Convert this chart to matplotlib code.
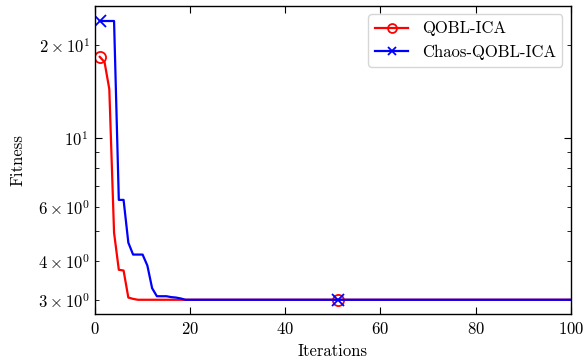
import matplotlib
matplotlib.use("Agg")
import matplotlib.pyplot as plt
import numpy as np

plt.rcParams['font.family'] = 'serif'
plt.rcParams['font.serif'] = ['cmr10', 'DejaVu Serif']
plt.rcParams['mathtext.fontset'] = 'cm'
plt.rcParams['axes.formatter.use_mathtext'] = True
plt.rcParams['font.size'] = 12

iterations = list(range(1, 101))

qobl_head = [18.3, 17.6, 14.4, 4.94, 3.75, 3.73, 3.05, 3.02]
chaos_head = [23.9, 23.9, 23.9, 23.9, 6.31, 6.31, 4.59, 4.20, 4.20, 4.20,
              3.87, 3.27, 3.08, 3.08, 3.08, 3.06, 3.05, 3.03]
final_value = 3.0

qobl = qobl_head + [final_value] * (100 - len(qobl_head))
chaos = chaos_head + [final_value] * (100 - len(chaos_head))

fig, ax = plt.subplots(figsize=(5.83, 3.6), dpi=100)
ax.plot(iterations, qobl, color='red', lw=1.6, marker='o', markevery=50,
        markersize=8, fillstyle='none', mew=1.3, label='QOBL-ICA')
ax.plot(iterations, chaos, color='blue', lw=1.6, marker='x', markevery=50,
        markersize=8, mew=1.3, label='Chaos-QOBL-ICA')
ax.set_yscale('log')
ax.set_xlim(0, 100)
ax.set_ylim(2.70, 26.7)
ax.set_xlabel('Iterations', labelpad=5)
ax.set_ylabel('Fitness', labelpad=9)
ax.tick_params(which='both', direction='in', top=True, right=True)
ax.tick_params(which='major', length=5, pad=5)
ax.tick_params(which='minor', length=3)
for s in ax.spines.values():
    s.set_linewidth(1.0)
ax.legend(loc='upper right', fancybox=True, markerscale=0.8, handlelength=2.0)
fig.subplots_adjust(left=0.163, right=0.979, top=0.983, bottom=0.128)
fig.savefig('out.png', dpi=100)
